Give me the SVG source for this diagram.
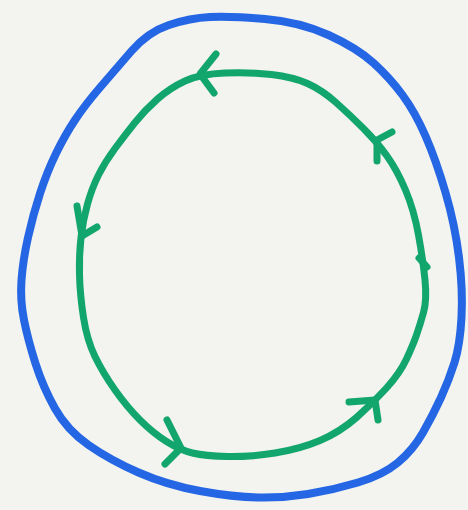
<svg xmlns="http://www.w3.org/2000/svg" width="468" height="510" viewBox="0 0 468 510">
<style>
.outer{fill:none;stroke:#2466e4;stroke-width:8;stroke-linejoin:round;stroke-linecap:round}
.inner{fill:none;stroke:#12a66c;stroke-width:7;stroke-linejoin:round;stroke-linecap:round}
.barb{fill:none;stroke:#12a66c;stroke-width:7;stroke-linejoin:round;stroke-linecap:round}
</style>
<rect width="468" height="510" fill="#f3f3ef"/>
<g id="outer-loop">
<path class="outer" d="M265,19 Q300,22 328.5,35 Q357,48 373.5,63 Q390,78 402.5,95 Q415,112 425.5,136 Q436,160 445.5,192.5 Q455,225 459,257.5 Q463,290 461.5,317.5 Q460,345 454.5,362.5 Q449,380 441,397.5 Q433,415 423,432.5 Q413,450 398,462.5 Q383,475 358,482.5 Q333,490 308,494 Q283,498 258,497.5 Q233,497 200,491 Q167,485 138.5,472.5 Q110,460 88.5,445 Q67,430 55,408.5 Q43,387 35.5,363.5 Q28,340 24,320 Q20,300 21.5,280 Q23,260 28,237.5 Q33,215 40,193.5 Q47,172 56,153.5 Q65,135 75,120 Q85,105 100,87.5 Q115,70 131.5,51 Q148,32 169,25 Q190,18 210,17 Q230,16 265,19 Z"/>
</g>
<g id="inner-loop">
<path class="inner" d="M225,73 Q250,72 271.5,74.5 Q293,77 307.5,83.5 Q322,90 336,102.5 Q350,115 363.5,128.5 Q377,142 387,156 Q397,170 405.5,190 Q414,210 418.5,235 Q423,260 425,280 Q427,300 423.5,312.5 Q420,325 416.5,335 Q413,345 406.5,359 Q400,373 386.5,388 Q373,403 356.5,417.5 Q340,432 320,440.5 Q300,449 275,453 Q250,457 227.5,456.5 Q205,456 192.5,453 Q180,450 166.5,441.5 Q153,433 140,420 Q127,407 115,390 Q103,373 95,356.5 Q87,340 83.5,317.5 Q80,295 79.5,275 Q79,255 81,237.5 Q83,220 87.5,204 Q92,188 98.5,175 Q105,162 115,148.5 Q125,135 135,122.5 Q145,110 157.5,99 Q170,88 185,81 Q200,74 225,73 Z"/>
</g>
<g id="arrowheads">
<path class="barb" d="M216,54 L200,74 L214,93"/>
<path class="barb" d="M392,132 L377,140 L377,161"/>
<path class="barb" d="M77,206 L82,236 L97,227"/>
<path class="barb" d="M167,420 L181,448 L165,464"/>
<path class="barb" d="M349,402 L375,400 L378,420"/>
<path class="barb" d="M419,258 L427,267"/>
</g>
</svg>
